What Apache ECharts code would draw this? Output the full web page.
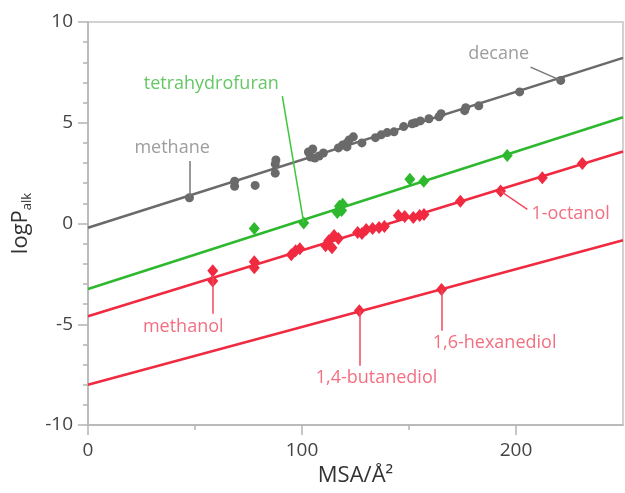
<!DOCTYPE html>
<html>
<head>
<meta charset="utf-8">
<script src="https://cdn.jsdelivr.net/npm/echarts@6.0.0/dist/echarts.min.js"></script>
<style>
html, body { margin: 0; padding: 0; background: #fff; }
#chart { width: 625px; height: 493px; }
</style>
</head>
<body>
<div id="chart"></div>
<script>
// data: [MSA, logP]
const alkanes = [
    [47.4, 1.28], [68.5, 1.85], [68.5, 2.1], [78.1, 1.89], [87.5, 2.5], [87.5, 2.95], [87.8, 3.15],
    [103, 3.55], [104, 3.3], [106, 3.25], [108, 3.35], [110, 3.5], [105, 3.7], [117, 3.75],
    [119, 3.9], [121, 4.0], [122, 4.15], [124, 4.3], [121, 3.8], [128, 4.0], [134.3, 4.26],
    [137, 4.4], [139.8, 4.51], [143, 4.55], [147.5, 4.81], [151.5, 4.95], [153, 5.0], [155.3, 5.09],
    [159.3, 5.2], [164, 5.3], [165, 5.45], [176, 5.6], [176.5, 5.75], [182.6, 5.84], [201.7, 6.53],
    [220.9, 7.1]
];
const ethers = [
    [77.7, -0.25], [100.8, 0.03], [116.5, 0.55], [117.5, 0.85], [118.5, 0.65], [119, 0.95],
    [150.4, 2.19], [156.9, 2.1], [195.9, 3.38]
];
const alcohols = [
    [58.3, -2.35], [58.3, -2.85], [77.7, -1.9], [77.7, -2.2], [95, -1.55], [97, -1.35], [99, -1.25],
    [111, -1.1], [112.5, -0.85], [114, -1.2], [115, -0.6], [117, -0.75], [126, -0.45], [128, -0.5],
    [130, -0.3], [133, -0.25], [136, -0.2], [138.5, -0.15], [145, 0.4], [148, 0.35], [152, 0.3],
    [155, 0.4], [157, 0.45], [174, 1.11], [192.8, 1.61], [212.3, 2.27], [231, 2.98]
];
const diols = [[126.8, -4.33], [165.2, -3.28]];

// fitted lines, ends at MSA 0 and 250
const alkaneFit = [[0, -0.21], [250, 8.22]];
const etherFit = [[0, -3.25], [250, 5.27]];
const alcoholFit = [[0, -4.6], [250, 3.57]];
const diolFit = [[0, -8.0], [250, -0.83]];

// tick values
const xMajorTicks = [0, 100, 200];
const xMinorTicks = [50, 150];
const yMinorTicks = [-9, -8, -7, -6, -4, -3, -2, -1, 1, 2, 3, 4, 6, 7, 8, 9];

// annotations: text, where the text sits, where the leader runs
const notes = [
    { text: 'methane', at: [39.3, 3.73], from: [47.4, 3.1], to: [47.4, 1.28], color: '#858585', line: '#777777' },
    { text: 'decane', at: [191.9, 8.41], from: [206.8, 7.76], to: [220.9, 7.1], color: '#858585', line: '#777777' },
    { text: 'tetrahydrofuran', at: [57.6, 6.92], from: [90.8, 6.32], to: [100.8, 0.03], color: '#3cb93c', line: '#3cc83c' },
    { text: 'methanol', at: [44.5, -5.12], from: [58.3, -4.48], to: [58.3, -2.6], color: '#f04a60', line: '#f04a60' },
    { text: '1,4-butanediol', at: [134.8, -7.66], from: [126.8, -7.06], to: [126.8, -4.33], color: '#f04a60', line: '#f04a60' },
    { text: '1,6-hexanediol', at: [190, -5.92], from: [165.2, -5.32], to: [165.2, -3.28], color: '#f04a60', line: '#f04a60' },
    { text: '1-octanol', at: [225.5, 0.5], from: [205.3, 0.7], to: [192.8, 1.61], color: '#f04a60', line: '#f04a60' }
];

const gray = '#6a6a6a';
const green = '#2db82d';
const red = '#f02a40';
const axisGray = '#b4b4b4';
const font = 'Open Sans';

let chart = echarts.init(document.getElementById('chart'));

function fitLine (data, color) {
    return {
        type: 'line',
        data: data,
        symbol: 'none',
        lineStyle: { color: color, width: 2.5 },
        silent: true,
        z: 2
    };
}

function dots (data, color, symbol, size) {
    return {
        type: 'scatter',
        data: data,
        symbol: symbol,
        symbolSize: size,
        itemStyle: { color: color, opacity: 1 },
        z: 4
    };
}

function ticks (values, length) {
    return {
        show: true,
        inside: false,
        length: length,
        customValues: values,
        lineStyle: { color: axisGray, width: 1.5 }
    };
}

const option = {
    animation: false,
    grid: {
        left: 88,
        right: 2,
        top: 22,
        bottom: 68,
        show: true,
        borderColor: '#c4c4c4',
        borderWidth: 1.5
    },
    xAxis: [
        {
            type: 'value',
            min: 0,
            max: 250,
            interval: 50,
            name: 'MSA/Å²',
            nameLocation: 'middle',
            nameGap: 40,
            nameTextStyle: { fontFamily: font, fontSize: 22, color: '#333' },
            axisLine: { show: true, onZero: false, lineStyle: { color: axisGray, width: 1.5 } },
            axisTick: ticks(xMajorTicks, 10),
            axisLabel: { customValues: xMajorTicks, inside: false, margin: 16, fontFamily: font, fontSize: 19, color: '#444' },
            splitLine: { show: false }
        },
        {
            type: 'value',
            min: 0,
            max: 250,
            interval: 50,
            position: 'bottom',
            offset: 0,
            axisLine: { show: false, onZero: false },
            axisTick: ticks(xMinorTicks, 5),
            axisLabel: { show: false },
            splitLine: { show: false }
        }
    ],
    yAxis: [
        {
            type: 'value',
            min: -10,
            max: 10,
            interval: 5,
            name: '{a|logP}{b|alk}',
            nameLocation: 'middle',
            nameRotate: 90,
            nameGap: 52,
            nameTextStyle: {
                rich: {
                    a: { fontFamily: font, fontSize: 22, color: '#333', lineHeight: 28 },
                    b: { fontFamily: font, fontSize: 13, color: '#333', lineHeight: 14, verticalAlign: 'bottom' }
                }
            },
            axisLine: { show: true, onZero: false, lineStyle: { color: axisGray, width: 1.5 } },
            axisTick: { show: true, inside: false, length: 10, lineStyle: { color: axisGray, width: 1.5 } },
            axisLabel: { inside: false, margin: 15, fontFamily: font, fontSize: 19, color: '#444' },
            splitLine: { show: false }
        },
        {
            // minor ticks every 1 unit
            type: 'value',
            min: -10,
            max: 10,
            interval: 5,
            position: 'left',
            offset: 0,
            axisLine: { show: false, onZero: false },
            axisTick: ticks(yMinorTicks, 5),
            axisLabel: { show: false },
            splitLine: { show: false }
        }
    ],
    series: [
        fitLine(alkaneFit, gray),
        fitLine(etherFit, green),
        fitLine(alcoholFit, red),
        fitLine(diolFit, red),
        {
            type: 'line',
            data: [],
            silent: true,
            markLine: {
                silent: true,
                symbol: ['none', 'none'],
                label: { show: false },
                data: notes.map(n => [
                    { coord: n.from, lineStyle: { color: n.line, width: 1.5, type: 'solid' } },
                    { coord: n.to }
                ])
            },
            z: 3
        },
        dots(alkanes, gray, 'circle', 9),
        dots(ethers, green, 'diamond', [11, 13]),
        dots(alcohols, red, 'diamond', [11, 13]),
        dots(diols, red, 'diamond', [11, 13]),
        {
            type: 'scatter',
            silent: true,
            symbolSize: 1,
            itemStyle: { color: 'rgba(0,0,0,0)' },
            data: notes.map(n => ({
                value: n.at,
                name: n.text,
                label: { color: n.color }
            })),
            label: {
                show: true,
                position: 'inside',
                formatter: '{b}',
                fontFamily: font,
                fontSize: 18
            },
            z: 5
        }
    ]
};

chart.setOption(option);

window.addEventListener('resize', function () {
    chart.resize();
});
</script>
</body>
</html>
